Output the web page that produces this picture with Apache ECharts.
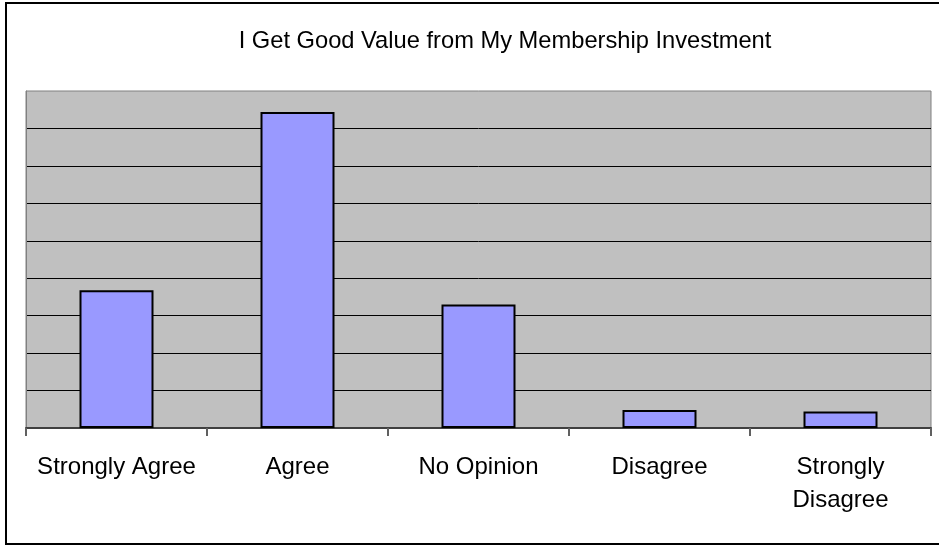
<!DOCTYPE html>
<html>
<head>
<meta charset="utf-8">
<script src="https://cdn.jsdelivr.net/npm/echarts@6/dist/echarts.min.js"></script>
<style>
  html, body { margin: 0; padding: 0; background: #ffffff; }
  #chart { width: 939px; height: 546px; }
</style>
</head>
<body>
<div id="chart"></div>
<script>
// Survey responses (percent of members)
const categories = ['Strongly Agree', 'Agree', 'No Opinion', 'Disagree', 'Strongly\nDisagree'];
const responses = [18.4, 42.2, 16.5, 2.4, 2.2];
const chartTitle = 'I Get Good Value from My Membership Investment';

const fontFamily = '"Liberation Sans", Arial, sans-serif';

const chart = echarts.init(document.getElementById('chart'));
chart.setOption({
  animation: false,
  backgroundColor: '#ffffff',
  title: {
    text: chartTitle,
    left: 500,
    top: 24,
    textAlign: 'center',
    textStyle: { fontFamily: fontFamily, fontSize: 23.7, fontWeight: 'normal', color: '#000000' }
  },
  graphic: [{
    type: 'rect',
    shape: { x: 6, y: 3, width: 960, height: 541 },
    style: { fill: 'none', stroke: '#000000', lineWidth: 2 },
    z: 100
  }],
  grid: {
    left: 26, right: 8, top: 91, bottom: 118,
    show: true,
    backgroundColor: '#c0c0c0',
    borderColor: '#808080',
    borderWidth: 1
  },
  xAxis: {
    type: 'category',
    data: categories,
    axisLine: { show: true, lineStyle: { color: '#404040', width: 2 } },
    axisTick: { show: true, alignWithLabel: false, length: 8, lineStyle: { color: '#606060', width: 2 } },
    axisLabel: {
      interval: 0,
      margin: 23,
      fontFamily: fontFamily,
      fontSize: 24,
      lineHeight: 33,
      color: '#000000'
    },
    splitLine: { show: false }
  },
  yAxis: {
    type: 'value',
    min: 0,
    max: 45,
    interval: 5,
    axisLabel: { show: false },
    axisTick: { show: false },
    axisLine: { show: true, lineStyle: { color: '#808080', width: 1 } },
    splitLine: { show: true, showMaxLine: false, lineStyle: { color: '#000000', width: 1 } }
  },
  series: [{
    type: 'bar',
    data: responses,
    barWidth: 74,
    itemStyle: { color: '#9999ff', borderColor: '#000000', borderWidth: 2 }
  }]
});
</script>
</body>
</html>
